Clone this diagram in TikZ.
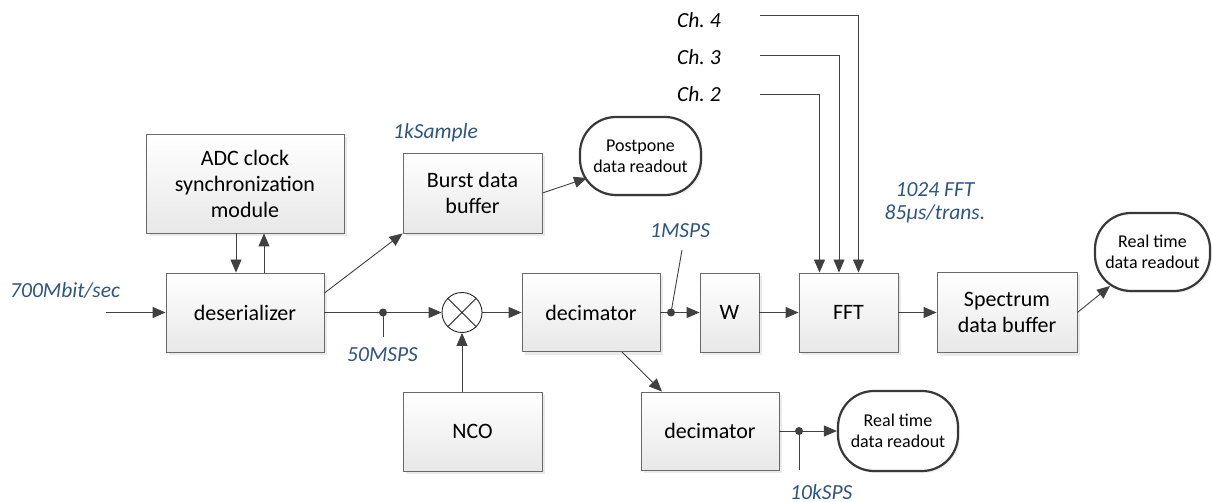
\documentclass[tikz,border=0pt]{standalone}
\usepackage{fontspec}
\setmainfont{Carlito}
\usetikzlibrary{arrows.meta,shadows}
\definecolor{lbl}{RGB}{46,84,128}
\definecolor{edge}{RGB}{64,64,64}
\definecolor{bord}{RGB}{105,105,105}
\frenchspacing
\begin{document}
\begin{tikzpicture}[x=1pt,y=-1pt,
  blk/.style={draw=bord, line width=0.9pt, top color=white, bottom color=black!9,
    drop shadow={shadow xshift=3pt,shadow yshift=-3pt,fill=black!16},
    inner sep=0pt, align=center, font=\fontsize{22}{26}\selectfont},
  term/.style={draw=black!78, line width=2.2pt, fill=white, rounded corners=36pt,
    drop shadow={shadow xshift=2pt,shadow yshift=-2pt,fill=black!12},
    inner sep=0pt, align=center, font=\fontsize{18}{21}\selectfont},
  lab/.style={text=lbl, font=\fontsize{21.5}{24}\selectfont\itshape, inner sep=0pt, anchor=base west},
  chl/.style={text=black, font=\fontsize{21.5}{24}\selectfont\itshape, inner sep=0pt, anchor=base west},
  conn/.style={draw=edge, line width=0.9pt, -{Triangle[length=13pt,width=11pt]}},
  ln/.style={draw=edge, line width=0.9pt},
  dotst/.style={fill=edge}
]
\useasboundingbox (0,0) rectangle (1212,502);

% blocks
\node[blk, minimum width=198pt, minimum height=99pt] (adc) at (245,183.5) {ADC clock\\synchronization\\module};
\node[blk, minimum width=158pt, minimum height=79pt] (des) at (245,312.5) {deserializer};
\node[blk, minimum width=139pt, minimum height=80pt] (burst) at (472.5,193) {Burst data\\buffer};
\node[blk, minimum width=138pt, minimum height=78pt] (dec1) at (591,312.5) {decimator};
\node[blk, minimum width=59pt, minimum height=79pt] (w) at (729.5,312.5) {W};
\node[blk, minimum width=99pt, minimum height=79pt] (fft) at (848.5,312.5) {FFT};
\node[blk, minimum width=140pt, minimum height=80pt] (spec) at (1007,312.5) {Spectrum\\data buffer};
\node[blk, minimum width=139pt, minimum height=79pt] (nco) at (472.5,431.5) {NCO};
\node[blk, minimum width=138pt, minimum height=78pt] (dec2) at (710,431) {decimator};

% terminators
\node[term, minimum width=121pt, minimum height=78pt] (post) at (640.5,156) {Postpone\\data readout};
\node[term, minimum width=115pt, minimum height=78pt] (rt1) at (1152.5,252) {Real time\\data readout};
\node[term, minimum width=120pt, minimum height=80pt] (rt2) at (898,431) {Real time\\data readout};

% mixer
\node[circle, draw=black!85, line width=0.9pt, fill=white, minimum size=40pt, inner sep=0pt] (mix) at (462,312.5) {};
\draw[black!85, line width=0.9pt] (mix.north west) -- (mix.south east) (mix.north east) -- (mix.south west);

% coordinates
\coordinate (in) at (106,312.5);
\coordinate (dot50) at (383,312.5);
\coordinate (t50) at (383,337);
\coordinate (dot1M) at (671,312.5);
\coordinate (t1M) at (682,250);
\coordinate (dot10k) at (799,431);
\coordinate (t10k) at (799,470);
\coordinate (postin) at (587,178);
\coordinate (rt1in) at (1110,286);
\coordinate (ch4s) at (760,15);
\coordinate (ch3s) at (760,55);
\coordinate (ch2s) at (760,94);

% labels
\node[lab] (l700) at (10,298) {700Mbit/sec};
\node[lab] (l1k) at (393,139) {1kSample};
\node[lab] (l1M) at (650,238) {1MSPS};
\node[lab] (l50) at (347,361) {50MSPS};
\node[lab] (l10k) at (790,499) {10kSPS};
\node[lab, anchor=base] (lfft1) at (935,197) {1024 FFT};
\node[lab, anchor=base] (lfft2) at (935,220) {85μs/trans.};
\node[chl] (ch4) at (677,28) {Ch. 4};
\node[chl] (ch3) at (677,65) {Ch. 3};
\node[chl] (ch2) at (677,102) {Ch. 2};

% connectors
\draw[conn] (in) -- (des.west);
\draw[conn] ([xshift=-9pt]adc.south) -- ([xshift=-9pt]des.north);
\draw[conn] ([xshift=19pt]des.north) -- ([xshift=19pt]adc.south);
\draw[conn] ([yshift=19.5pt]des.east) -- (burst.south west);
\draw[conn] (burst.east) -- (postin);
\draw[ln] (des.east) -- (dot50);
\draw[conn] (dot50) -- (mix.west);
\draw[ln] (dot50) -- (t50);
\fill[dotst] (dot50) circle (4pt);
\draw[conn] (mix |- nco.north) -- (mix.south);
\draw[conn] (mix.east) -- (dec1.west);
\draw[ln] (dec1.east) -- (dot1M);
\draw[conn] (dot1M) -- (w.west);
\draw[ln] (dot1M) -- (t1M);
\fill[dotst] (dot1M) circle (4pt);
\draw[conn] (w.east) -- (fft.west);
\draw[conn] (fft.east) -- (spec.west);
\draw[conn] (spec.east) -- (rt1in);
\draw[conn] (ch4s) -| ([xshift=10pt]fft.north);
\draw[conn] (ch3s) -| ([xshift=-9.5pt]fft.north);
\draw[conn] (ch2s) -| ([xshift=-29pt]fft.north);
\draw[conn] ([xshift=31pt]dec1.south) -- ([xshift=-48pt]dec2.north);
\draw[ln] (dec2.east) -- (dot10k);
\draw[conn] (dot10k) -- (rt2.west);
\draw[ln] (dot10k) -- (t10k);
\fill[dotst] (dot10k) circle (4pt);
\end{tikzpicture}
\end{document}
